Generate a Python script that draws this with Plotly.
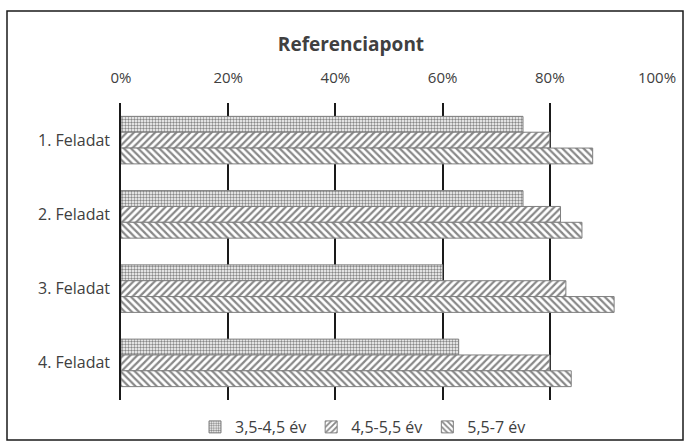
import plotly.graph_objects as go

categories = ["1. Feladat", "2. Feladat", "3. Feladat", "4. Feladat"]
series_names = ["3,5-4,5 év", "4,5-5,5 év", "5,5-7 év"]
s1 = [0.75, 0.75, 0.60, 0.63]
s2 = [0.80, 0.82, 0.83, 0.80]
s3 = [0.88, 0.86, 0.92, 0.84]
tick_vals = [0, 0.2, 0.4, 0.6, 0.8, 1.0]
tick_text = ["0%", "20%", "40%", "60%", "80%", "100%"]

patterns = [".", "/", "\\"]
values = [s1, s2, s3]

fig = go.Figure()
for name, vals, pat in zip(series_names, values, patterns):
    fig.add_trace(go.Bar(
        y=categories, x=vals, name=name, orientation="h",
        marker=dict(
            color="white",
            line=dict(color="#7f7f7f", width=1),
            pattern=dict(shape=pat, fgcolor="#111111", bgcolor="white",
                         size=3 if pat == "." else 5,
                         solidity=0.5 if pat == "." else 0.45),
        ),
    ))

W, H = 689, 447
L, R, T, B = 121, 32, 103, 47
pw = W - L - R
ph = H - T - B

fig.update_layout(
    width=W, height=H,
    margin=dict(l=L, r=R, t=T, b=B, autoexpand=False),
    paper_bgcolor="white", plot_bgcolor="white",
    barmode="group", bargap=0.36, bargroupgap=0,
    font=dict(family="Open Sans, Noto Sans, sans-serif", size=15, color="#404040"),
    title=dict(text="<b>Referenciapont</b>", x=351 / W, xref="container", xanchor="center",
               y=1 - 44 / H, yref="container", yanchor="middle",
               font=dict(size=19, color="#404040")),
    xaxis=dict(side="top", range=[0, 1], tickvals=tick_vals, ticktext=tick_text,
               showgrid=True, gridcolor="#1a1a1a", gridwidth=1.5,
               zeroline=False, showline=False, ticks="", automargin=False,
               ticklabelstandoff=16,
               tickfont=dict(size=15, color="#404040")),
    yaxis=dict(autorange="reversed", showline=True, linecolor="#1a1a1a", linewidth=1.5,
               ticks="", showgrid=False, ticklabelstandoff=6, automargin=False,
               tickfont=dict(size=16, color="#404040")),
    legend=dict(orientation="h", x=363 / W, xref="container", xanchor="center",
                y=1 - 427 / H, yref="container", yanchor="middle",
                bgcolor="rgba(0,0,0,0)",
                font=dict(size=16, color="#404040"), itemwidth=30,
                traceorder="normal"),
    shapes=[dict(type="rect", xref="paper", yref="paper",
                 x0=(7 - L) / pw, x1=(683 - L) / pw,
                 y0=-(440 - (T + ph)) / ph, y1=1 + (T - 11) / ph,
                 line=dict(color="#1a1a1a", width=1.5), fillcolor="rgba(0,0,0,0)",
                 layer="below")],
)

fig.write_html("out.html", config={"displayModeBar": False},
               post_script="document.body.style.margin='0px';document.body.style.overflow='hidden';")
